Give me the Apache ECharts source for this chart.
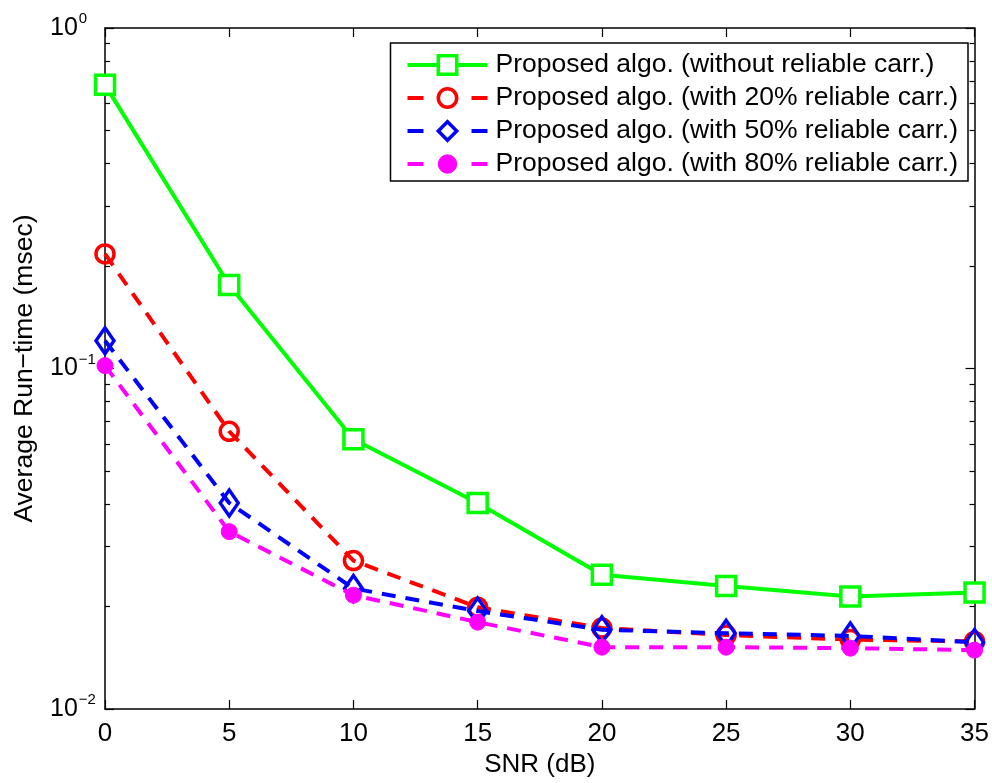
<!DOCTYPE html>
<html>
<head>
<meta charset="utf-8">
<script src="https://cdn.jsdelivr.net/npm/echarts@6/dist/echarts.min.js"></script>
<style>
  html, body { margin: 0; padding: 0; background: #fff; }
  #chart { width: 992px; height: 783px; }
</style>
</head>
<body>
<div id="chart"></div>
<script>
// SNR sweep (dB)
const snr = [0, 5, 10, 15, 20, 25, 30, 35];

// Average run-time (msec) per reliable-carrier share
const noReliable   = [0.681, 0.176, 0.062, 0.0403, 0.0248, 0.0230, 0.0214, 0.0220];
const reliable20   = [0.217, 0.0654, 0.0273, 0.0199, 0.0173, 0.0165, 0.0160, 0.0158];
const reliable50   = [0.1207, 0.0403, 0.0226, 0.0194, 0.0171, 0.0167, 0.0164, 0.0157];
const reliable80   = [0.102, 0.0332, 0.0216, 0.0180, 0.0152, 0.0152, 0.0151, 0.0149];

const seriesNames = [
  'Proposed algo. (without reliable carr.)',
  'Proposed algo. (with 20% reliable carr.)',
  'Proposed algo. (with 50% reliable carr.)',
  'Proposed algo. (with 80% reliable carr.)'
];
const seriesColors = ['#00ff00', '#ff0000', '#0000ff', '#ff00ff'];

const FONT = '"Liberation Sans", Arial, Helvetica, sans-serif';

function pairs(ys) { return snr.map((x, i) => [x, ys[i]]); }

// 10^k tick labels with a raised exponent
function powLabel(v) {
  const e = Math.round(Math.log10(v));
  return '{b|10}{e|' + String(e).replace('-', '\u2212') + '}';
}

const yRich = {
  b: { fontSize: 25, fontFamily: FONT, color: '#000' },
  e: { fontSize: 15, fontFamily: FONT, color: '#000', padding: [0, 0, 18, 1] }
};

const axisLine = { show: true, onZero: false, lineStyle: { color: '#000', width: 1.5 } };
const majorTick = { show: true, inside: true, length: 9, lineStyle: { color: '#000', width: 1.2 } };
const minorTick = { show: true, splitNumber: 9, length: 5, lineStyle: { color: '#000', width: 1.2 } };

// Legend keys: solid line for the first entry, short end dashes for the rest
const legendData = seriesNames.map((name, i) => ({
  name: name,
  lineStyle: { color: seriesColors[i], width: 4, type: i === 0 ? 'solid' : [16, 48] },
  itemStyle: i === 3
    ? { color: seriesColors[i], borderColor: seriesColors[i], borderWidth: 1 }
    : { color: i === 0 ? '#fff' : 'rgba(255,255,255,0)', borderColor: seriesColors[i], borderWidth: 3.5 }
}));

const chart = echarts.init(document.getElementById('chart'), null, { renderer: 'canvas' });

chart.setOption({
  backgroundColor: '#fff',
  animation: false,
  grid: { left: 105, right: 17, top: 28, bottom: 71, containLabel: false },
  legend: {
    orient: 'vertical',
    right: 24,
    top: 43,
    backgroundColor: '#fff',
    borderColor: '#000',
    borderWidth: 1.5,
    borderRadius: 0,
    padding: [7, 10, 2, 15],
    itemGap: 3,
    itemWidth: 80,
    itemHeight: 23,
    textStyle: { fontSize: 26.5, lineHeight: 30, fontFamily: FONT, color: '#000', padding: [0, 0, 0, 3] },
    data: legendData
  },
  xAxis: [{
    type: 'value', min: 0, max: 35, interval: 5,
    name: 'SNR (dB)', nameLocation: 'middle', nameGap: 42,
    nameTextStyle: { fontSize: 26, fontFamily: FONT, color: '#000' },
    axisLine: axisLine,
    axisTick: majorTick,
    axisLabel: { fontSize: 26, fontFamily: FONT, color: '#000', margin: 12 },
    splitLine: { show: false }
  }, {
    type: 'value', min: 0, max: 35, interval: 5, position: 'top',
    axisLine: axisLine,
    axisTick: majorTick,
    axisLabel: { show: false },
    splitLine: { show: false }
  }],
  yAxis: [{
    type: 'log', min: 0.01, max: 1, logBase: 10,
    name: 'Average Run\u2212time (msec)', nameLocation: 'middle', nameGap: 67,
    nameTextStyle: { fontSize: 26.5, fontFamily: FONT, color: '#000' },
    axisLine: axisLine,
    axisTick: majorTick,
    minorTick: minorTick,
    axisLabel: { formatter: powLabel, rich: yRich, margin: 55, align: 'left' },
    splitLine: { show: false }
  }, {
    type: 'log', min: 0.01, max: 1, logBase: 10, position: 'right',
    axisLine: axisLine,
    axisTick: majorTick,
    minorTick: minorTick,
    axisLabel: { show: false },
    splitLine: { show: false }
  }],
  series: [{
    name: seriesNames[0], type: 'line', data: pairs(noReliable), clip: false,
    symbol: 'rect', symbolSize: 19,
    lineStyle: { color: seriesColors[0], width: 4, type: 'solid' },
    itemStyle: { color: '#fff', borderColor: seriesColors[0], borderWidth: 3.5 },
    z: 2
  }, {
    name: seriesNames[1], type: 'line', data: pairs(reliable20), clip: false,
    symbol: 'circle', symbolSize: 18,
    lineStyle: { color: seriesColors[1], width: 4, type: [14, 10] },
    itemStyle: { color: 'rgba(255,255,255,0)', borderColor: seriesColors[1], borderWidth: 3.5 },
    z: 3
  }, {
    name: seriesNames[2], type: 'line', data: pairs(reliable50), clip: false,
    symbol: 'diamond', symbolSize: [18, 26],
    lineStyle: { color: seriesColors[2], width: 4, type: [14, 10] },
    itemStyle: { color: 'rgba(255,255,255,0)', borderColor: seriesColors[2], borderWidth: 3.5 },
    z: 4
  }, {
    name: seriesNames[3], type: 'line', data: pairs(reliable80), clip: false,
    symbol: 'circle', symbolSize: 16,
    lineStyle: { color: seriesColors[3], width: 4, type: [14, 10] },
    itemStyle: { color: seriesColors[3], borderColor: seriesColors[3], borderWidth: 1 },
    z: 5
  }]
});
</script>
</body>
</html>
